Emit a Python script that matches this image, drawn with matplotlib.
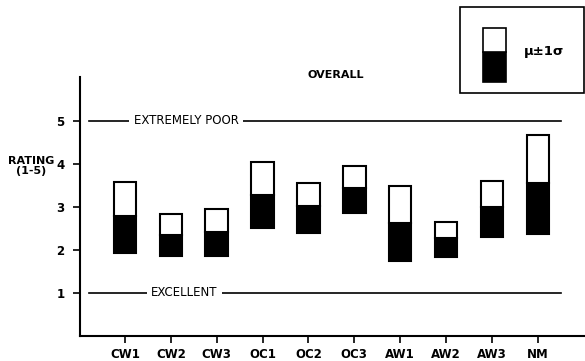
import matplotlib.pyplot as plt
import matplotlib.patches as mpatches
import numpy as np

# values: mu-1sd, mu, mu+1sd
categories = ["CW1", "CW2", "CW3", "OC1", "OC2", "OC3", "AW1", "AW2", "AW3", "NM"]
lows = [1.94, 1.86, 1.86, 2.52, 2.39, 2.86, 1.75, 1.84, 2.31, 2.38]
means = [2.80, 2.36, 2.42, 3.29, 3.02, 3.45, 2.63, 2.27, 2.99, 3.56]
highs = [3.59, 2.83, 2.95, 4.04, 3.56, 3.95, 3.48, 2.65, 3.61, 4.67]

plt.rcParams['font.family'] = ['DejaVu Sans']

fig = plt.figure(figsize=(5.85, 3.61), dpi=100)
ax = fig.add_axes([80 / 585, 1 - 336 / 361, 505 / 585, 259.3 / 361])

x = np.arange(len(categories))
lo = np.array(lows)
mu = np.array(means)
hi = np.array(highs)
width = 0.49

ax.bar(x, mu - lo, width, bottom=lo, color='black', edgecolor='black', linewidth=1.5)
ax.bar(x, hi - mu, width, bottom=mu, color='white', edgecolor='black', linewidth=1.5)

# reference lines with labels
ax.plot([-0.78, 9.5], [5, 5], color='black', lw=1.2, zorder=1)
ax.plot([-0.78, 9.5], [1, 1], color='black', lw=1.2, zorder=1)
ax.text(1.33, 5, "EXTREMELY POOR", ha='center', va='center', fontsize=8.5,
        bbox=dict(facecolor='white', edgecolor='none', pad=3), zorder=2)
ax.text(1.30, 1, "EXCELLENT", ha='center', va='center', fontsize=8.5,
        bbox=dict(facecolor='white', edgecolor='none', pad=3), zorder=2)

ax.set_xlim(-0.98, 10.03)
ax.set_ylim(0, 6.03)
ax.set_xticks(x)
ax.set_xticklabels(categories, fontsize=8.5, fontweight='bold')
ax.set_yticks([1, 2, 3, 4, 5])
ax.set_yticklabels(["1", "2", "3", "4", "5"], fontsize=8.5, fontweight='bold')
ax.tick_params(length=5, width=1.2, pad=4)
ax.tick_params(axis='y', pad=6)
ax.spines['top'].set_visible(False)
ax.spines['right'].set_visible(False)
ax.spines['left'].set_linewidth(1.5)
ax.spines['bottom'].set_linewidth(1.5)

fig.text(31 / 585, 1 - 166 / 361, "RATING\n(1-5)", ha='center', va='center',
         fontsize=8, fontweight='bold', linespacing=0.9)
fig.text(336 / 585, 1 - 75 / 361, "OVERALL", ha='center', va='center',
         fontsize=8, fontweight='bold')

# legend box
fig.patches.append(mpatches.Rectangle((460 / 585, 1 - 93 / 361), 124 / 585, 86 / 361,
                                      transform=fig.transFigure, facecolor='white',
                                      edgecolor='black', linewidth=1.2))
fig.patches.append(mpatches.Rectangle((483 / 585, 1 - 82 / 361), 23 / 585, 30 / 361,
                                      transform=fig.transFigure, facecolor='black',
                                      edgecolor='black', linewidth=1.2))
fig.patches.append(mpatches.Rectangle((483 / 585, 1 - 52 / 361), 23 / 585, 24 / 361,
                                      transform=fig.transFigure, facecolor='white',
                                      edgecolor='black', linewidth=1.2))
fig.text(524 / 585, 1 - 52 / 361, "\u03bc\u00b11\u03c3", ha='left', va='center',
         fontsize=9.5, fontweight='bold')

fig.savefig("out.png", dpi=100)
